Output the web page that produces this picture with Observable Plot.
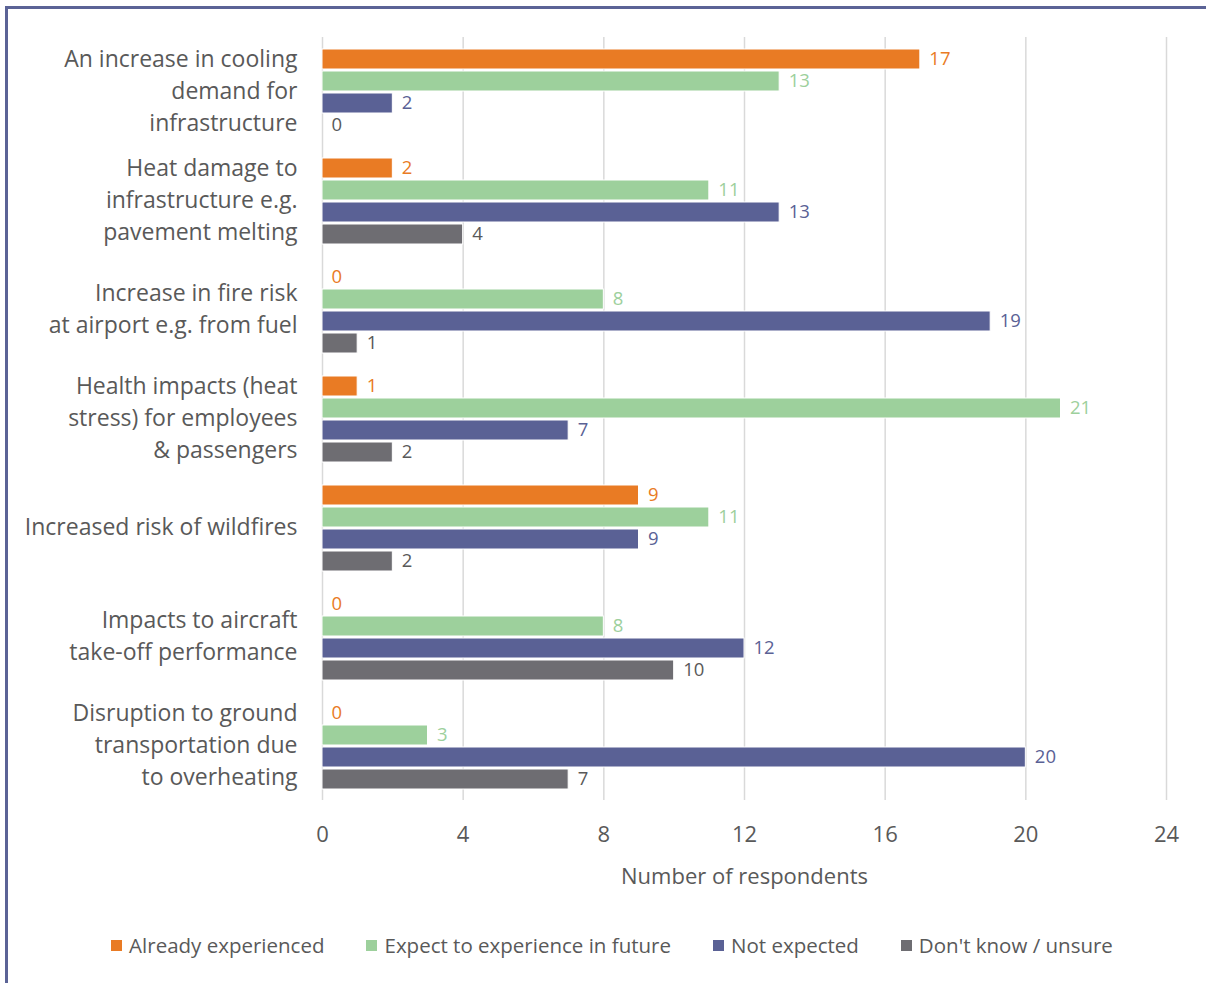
<!DOCTYPE html>
<html>
<head>
<meta charset="utf-8">
<script src="https://cdn.jsdelivr.net/npm/d3@7"></script>
<script src="https://cdn.jsdelivr.net/npm/@observablehq/plot@0.6"></script>
<style>
  html, body { margin: 0; padding: 0; background: #fff; }
  body { width: 1206px; height: 983px; position: relative; overflow: hidden; font-family: "Open Sans", sans-serif; }
  #frame { position: absolute; left: 5px; top: 6px; width: 1210px; height: 990px; border-top: 3px solid #5b6396; border-left: 3px solid #5b6396; box-sizing: border-box; }
  #chart { position: absolute; left: 0; top: 0; }
  #legend { position: absolute; left: 0; top: 931px; width: 1224px; display: flex; justify-content: center; gap: 42px; font-size: 20.5px; color: #595959; }
  #legend .item { display: flex; align-items: center; }
  #legend .sw { width: 11px; height: 11px; margin-right: 7px; }
</style>
</head>
<body>
<div id="frame"></div>
<div id="chart"></div>
<div id="legend"></div>
<script>
const categories = [
  "An increase in cooling\ndemand for\ninfrastructure",
  "Heat damage to\ninfrastructure e.g.\npavement melting",
  "Increase in fire risk\nat airport e.g. from fuel",
  "Health impacts (heat\nstress) for employees\n& passengers",
  "Increased risk of wildfires",
  "Impacts to aircraft\ntake-off performance",
  "Disruption to ground\ntransportation due\nto overheating"
];
const seriesNames = ["Already experienced", "Expect to experience in future", "Not expected", "Don't know / unsure"];
const alreadyExperienced = [17, 2, 0, 1, 9, 0, 0];
const expectInFuture     = [13, 11, 8, 21, 11, 8, 3];
const notExpected        = [2, 13, 19, 7, 9, 12, 20];
const dontKnow           = [0, 4, 1, 2, 2, 10, 7];
const xTicks = [0, 4, 8, 12, 16, 20, 24];

const barColors = ["#e97b24", "#9dd09c", "#5a6195", "#6e6d72"];
const labelColors = ["#e97b24", "#9dd09c", "#5a6195", "#595959"];

const seriesValues = [alreadyExperienced, expectInFuture, notExpected, dontKnow];
const data = [];
categories.forEach((c, i) => {
  seriesNames.forEach((s, j) => {
    data.push({category: c, series: s, value: seriesValues[j][i], label: labelColors[j]});
  });
});

const chart = Plot.plot({
  width: 1206,
  height: 900,
  marginLeft: 322,
  marginRight: 40,
  marginTop: 37,
  marginBottom: 100,
  style: {fontFamily: "Open Sans, sans-serif", color: "#595959", background: "transparent"},
  x: {domain: [0, 24], axis: null},
  fy: {domain: categories, padding: 0, axis: null},
  y: {domain: seriesNames, paddingInner: 0.1, paddingOuter: 0.49, axis: null},
  color: {domain: seriesNames, range: barColors},
  marks: [
    Plot.gridX(xTicks, {stroke: "#d9d9d9", strokeOpacity: 1, strokeWidth: 1.5}),
    Plot.barX(data.filter(d => d.value > 0), {x: "value", y: "series", fy: "category", fill: "series", stroke: "#ffffff", strokeWidth: 1}),
    Plot.text(data, {x: "value", y: "series", fy: "category", text: d => String(d.value), fill: "label", textAnchor: "start", dx: 9, fontSize: 18.5}),
    Plot.text(categories, {fy: d => d, text: d => d, frameAnchor: "left", textAnchor: "end", dx: -25, dy: -3, fontSize: 23, lineHeight: 1.39, fill: "#595959"}),
    Plot.axisX(xTicks, {anchor: "bottom", tickSize: 0, tickPadding: 26, fontSize: 22, color: "#595959", label: "Number of respondents", labelAnchor: "center", labelArrow: "none", labelOffset: 83})
  ]
});
chart.querySelectorAll("[aria-label='x-axis label'] text").forEach(t => t.setAttribute("font-size", "22"));
document.getElementById("chart").appendChild(chart);

const legend = document.getElementById("legend");
seriesNames.forEach((s, j) => {
  const item = document.createElement("div");
  item.className = "item";
  const sw = document.createElement("span");
  sw.className = "sw";
  sw.style.background = barColors[j];
  const t = document.createElement("span");
  t.textContent = s;
  item.appendChild(sw);
  item.appendChild(t);
  legend.appendChild(item);
});
</script>
</body>
</html>
